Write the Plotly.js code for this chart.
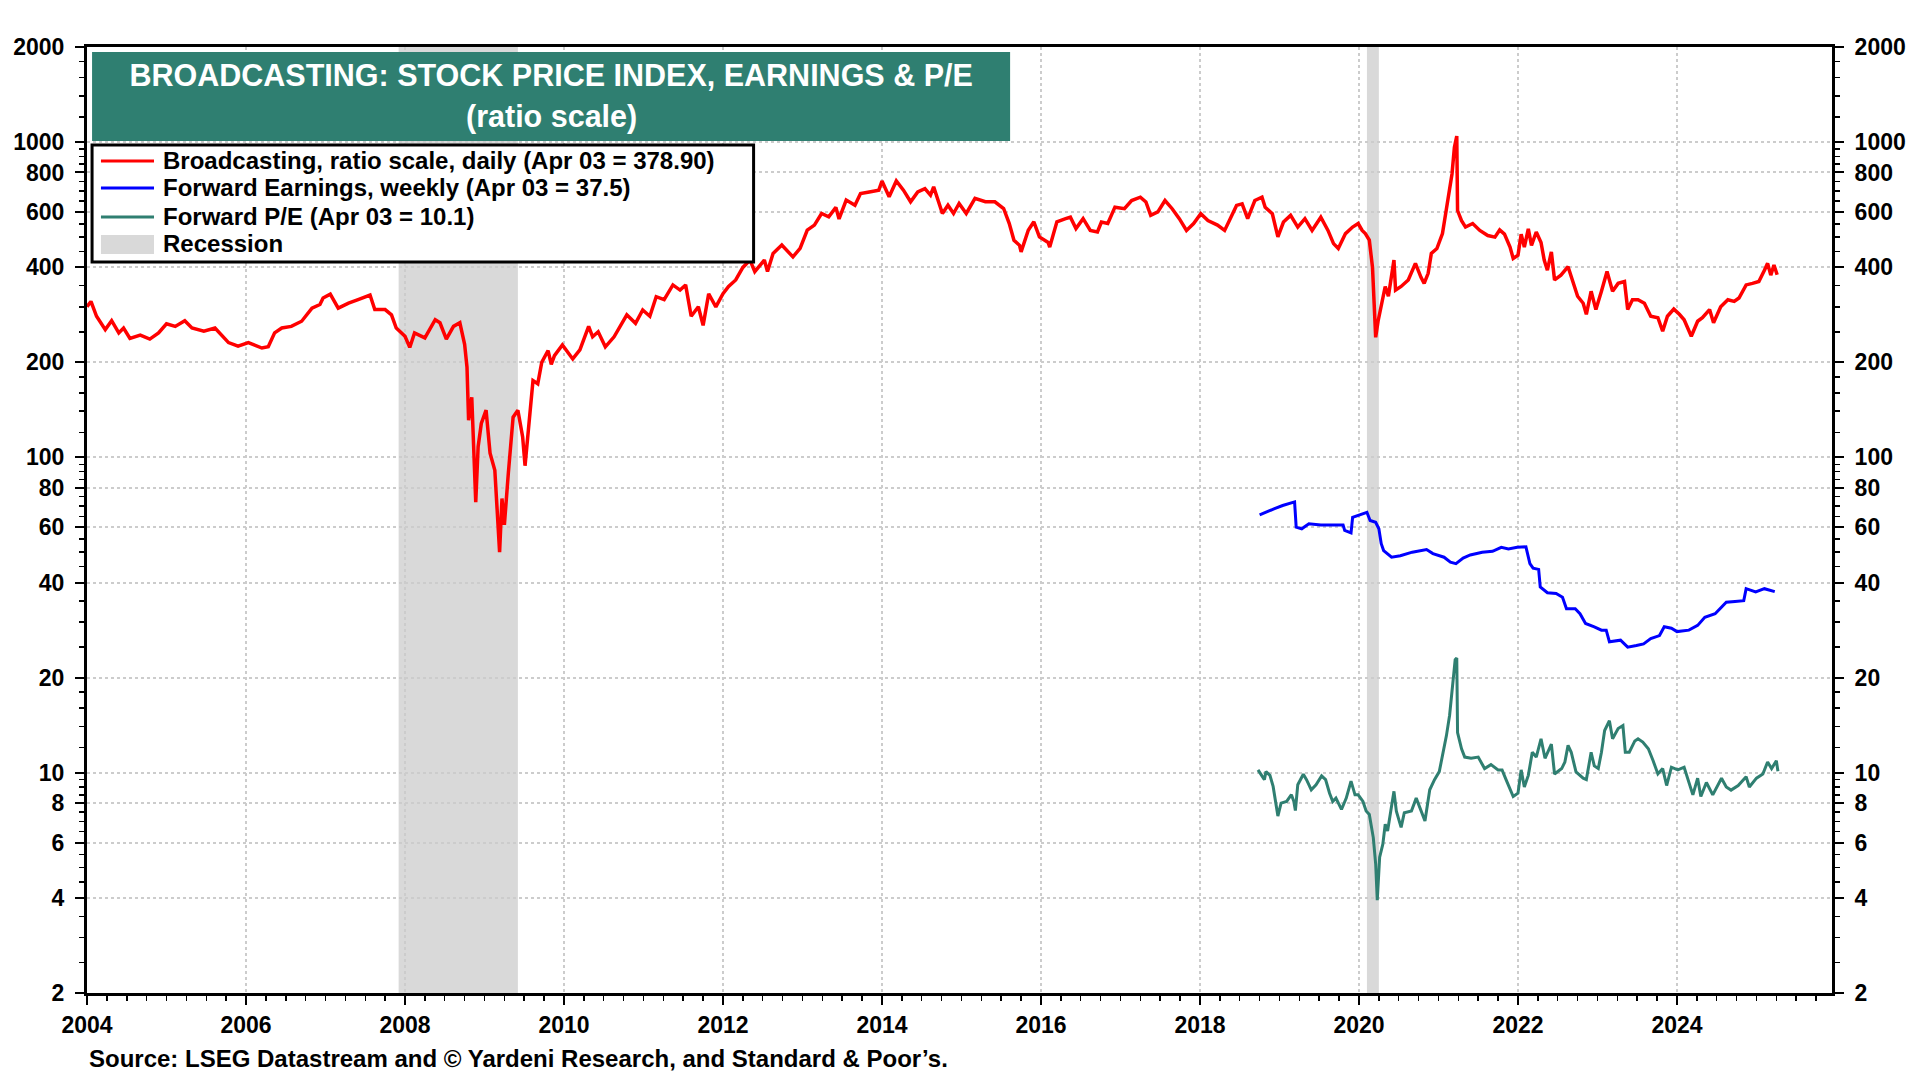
<!DOCTYPE html>
<html>
<head>
<meta charset="utf-8">
<script src="https://cdn.plot.ly/plotly-3.0.1.min.js"></script>
<style>
  html, body { margin: 0; padding: 0; background: #ffffff; }
  #chart { width: 1920px; height: 1080px; }
</style>
</head>
<body>
<div id="chart"></div>
<script>
// Broadcasting stock price index (daily)
const priceYears = [
  2004.00, 2004.05, 2004.12, 2004.23, 2004.31, 2004.40, 2004.46, 2004.54, 2004.67, 2004.79, 2004.90,
  2005.00, 2005.11, 2005.23, 2005.32, 2005.47, 2005.61, 2005.78, 2005.90,
  2006.03, 2006.20, 2006.28, 2006.36, 2006.45, 2006.57, 2006.70, 2006.83, 2006.93, 2006.97,
  2007.06, 2007.16, 2007.29, 2007.41, 2007.56, 2007.62, 2007.75, 2007.83, 2007.89,
  2008.00, 2008.06, 2008.12, 2008.25, 2008.38, 2008.44, 2008.52, 2008.61, 2008.69, 2008.75, 2008.78,
  2008.80, 2008.84, 2008.87, 2008.89, 2008.92, 2008.96,
  2009.02, 2009.07, 2009.13, 2009.16, 2009.19, 2009.22, 2009.25, 2009.30, 2009.36, 2009.42, 2009.48,
  2009.51, 2009.55, 2009.61, 2009.67, 2009.72, 2009.80, 2009.84, 2009.88, 2009.98,
  2010.11, 2010.20, 2010.31, 2010.36, 2010.43, 2010.52, 2010.63, 2010.79, 2010.90, 2010.99,
  2011.08, 2011.16, 2011.26, 2011.37, 2011.46, 2011.53, 2011.60, 2011.69, 2011.75, 2011.82, 2011.91,
  2012.00, 2012.07, 2012.16, 2012.25, 2012.34, 2012.40, 2012.52, 2012.56, 2012.63, 2012.74, 2012.88, 2012.97,
  2013.06, 2013.15, 2013.24, 2013.33, 2013.42, 2013.46, 2013.55, 2013.66, 2013.73, 2013.84, 2013.96,
  2014.00, 2014.09, 2014.18, 2014.27, 2014.36, 2014.45, 2014.54, 2014.61, 2014.65, 2014.76, 2014.83, 2014.90, 2014.97,
  2015.06, 2015.17, 2015.30, 2015.42, 2015.53, 2015.60, 2015.66, 2015.73, 2015.75, 2015.84, 2015.91, 2015.98,
  2016.09, 2016.11, 2016.20, 2016.31, 2016.37, 2016.44, 2016.53, 2016.62, 2016.71, 2016.76, 2016.84, 2016.93,
  2017.05, 2017.14, 2017.25, 2017.32, 2017.38, 2017.47, 2017.56, 2017.65, 2017.74, 2017.83, 2017.92,
  2018.01, 2018.10, 2018.22, 2018.31, 2018.37, 2018.46, 2018.53, 2018.60, 2018.69, 2018.78, 2018.82, 2018.91, 2018.98,
  2019.05, 2019.14, 2019.23, 2019.32, 2019.41, 2019.52, 2019.61, 2019.68, 2019.74, 2019.83, 2019.92, 2019.99,
  2020.04, 2020.08, 2020.13, 2020.17, 2020.19, 2020.21, 2020.24, 2020.28, 2020.33, 2020.37, 2020.44, 2020.46,
  2020.53, 2020.62, 2020.71, 2020.78, 2020.82, 2020.87, 2020.91, 2020.98,
  2021.05, 2021.09, 2021.14, 2021.17, 2021.20, 2021.23, 2021.24, 2021.29, 2021.34, 2021.43, 2021.52, 2021.62,
  2021.71, 2021.77, 2021.83, 2021.90, 2021.94,
  2022.00, 2022.04, 2022.08, 2022.13, 2022.17, 2022.23, 2022.29, 2022.33, 2022.37, 2022.42, 2022.46, 2022.54,
  2022.63, 2022.69, 2022.75, 2022.82, 2022.86, 2022.92, 2022.98,
  2023.05, 2023.12, 2023.19, 2023.26, 2023.34, 2023.38, 2023.44, 2023.51, 2023.59, 2023.67, 2023.76, 2023.82,
  2023.88, 2023.96,
  2024.03, 2024.09, 2024.18, 2024.26, 2024.32, 2024.41, 2024.46, 2024.55, 2024.64, 2024.72, 2024.78, 2024.87, 2024.95,
  2025.03, 2025.10, 2025.14, 2025.18, 2025.22, 2025.26
];
const priceValues = [
  300, 312, 280, 254, 271, 248, 257, 238, 244, 237, 248,
  265, 260, 271, 257, 251, 257, 231, 225,
  231, 222, 224, 248, 257, 260, 270, 297, 305, 320,
  329, 297, 308, 316, 327, 294, 294, 283, 257,
  242, 223, 248, 239, 273, 267, 237, 260, 267, 228, 193,
  131, 155, 98, 72, 108, 128,
  141, 103, 91, 67, 50, 74, 61, 89, 134, 141, 116,
  94, 122, 175, 171, 200, 218, 197, 210, 227,
  205, 219, 260, 241, 250, 224, 241, 283, 266, 293,
  280, 323, 316, 352, 339, 352, 280, 300, 262, 330, 300,
  330, 348, 365, 400, 422, 388, 422, 388, 443, 471, 432, 460,
  525, 545, 593, 579, 620, 570, 654, 630, 686, 694, 703,
  752, 670, 752, 703, 646, 694, 711, 678, 720, 593, 630, 593, 638,
  593, 662, 646, 646, 615, 552, 488, 470, 448, 525, 558, 500,
  480, 464, 558, 571, 577, 531, 571, 524, 518, 557, 551, 621,
  614, 652, 668, 645, 585, 600, 652, 614, 571, 524, 551,
  592, 563, 545, 524, 563, 629, 636, 571, 652, 668, 621, 592, 500,
  557, 585, 537, 571, 524, 577, 524, 476, 459, 512, 537, 551,
  524, 512, 488, 400, 316, 240, 270, 300, 348, 324, 422, 339,
  348, 365, 412, 372, 356, 383, 443, 459,
  512, 592, 700, 791, 960, 1044, 606, 563, 537, 551, 524, 505,
  499, 526, 510, 464, 427,
  437, 510, 464, 530, 470, 518, 480, 422, 392, 448, 365, 378,
  402, 361, 324, 308, 284, 336, 294,
  336, 388, 336, 356, 361, 294, 316, 316, 308, 280, 277, 251,
  280, 295,
  284, 273, 242, 270, 277, 294, 267, 300, 316, 312, 320, 352, 356,
  361, 392, 412, 378, 407, 379
];

// Forward earnings, weekly
const earnYears = [
  2018.75, 2018.84, 2018.93, 2019.04, 2019.13, 2019.19, 2019.21, 2019.28, 2019.37, 2019.52, 2019.70, 2019.80,
  2019.82, 2019.90, 2019.92, 2020.01, 2020.10, 2020.14, 2020.21, 2020.25, 2020.28, 2020.31, 2020.41, 2020.52,
  2020.67, 2020.85, 2020.93, 2021.07, 2021.15, 2021.22, 2021.31, 2021.40, 2021.55, 2021.68, 2021.79, 2021.88,
  2021.99, 2022.10, 2022.15, 2022.19, 2022.26, 2022.28, 2022.37, 2022.48, 2022.56, 2022.61, 2022.72, 2022.78,
  2022.85, 2022.96, 2023.05, 2023.11, 2023.15, 2023.29, 2023.38, 2023.49, 2023.58, 2023.67, 2023.78, 2023.84,
  2023.93, 2024.00, 2024.15, 2024.26, 2024.35, 2024.48, 2024.62, 2024.73, 2024.84, 2024.87, 2024.99, 2025.10,
  2025.23
];
const earnValues = [
  65.6, 66.9, 68.6, 70.3, 71.6, 72.2, 60.0, 59.3, 61.5, 61.0, 61.0, 61.0,
  58.6, 57.6, 64.5, 65.6, 66.9, 63.0, 62.2, 59.3, 53.2, 50.6, 48.2, 48.7,
  50.0, 51.0, 49.5, 48.2, 46.5, 46.0, 47.9, 49.0, 50.0, 50.3, 51.8, 51.2,
  51.8, 52.0, 46.0, 44.5, 44.1, 38.8, 37.2, 37.0, 36.0, 33.1, 33.1, 31.9,
  29.7, 29.0, 28.3, 28.3, 26.0, 26.3, 25.0, 25.3, 25.6, 26.6, 27.2, 29.0,
  28.7, 28.0, 28.3, 29.3, 31.1, 31.9, 34.7, 34.9, 35.1, 38.3, 37.4, 38.3,
  37.5
];

// Forward P/E
const peYears = [
  2018.73, 2018.77, 2018.81, 2018.83, 2018.88, 2018.92, 2018.95, 2018.98, 2019.02, 2019.09, 2019.15, 2019.18,
  2019.20, 2019.23, 2019.30, 2019.34, 2019.40, 2019.46, 2019.53, 2019.58, 2019.63, 2019.67, 2019.71, 2019.78,
  2019.84, 2019.90, 2019.95, 2019.99, 2020.05, 2020.09, 2020.13, 2020.18, 2020.21, 2020.23, 2020.26, 2020.30,
  2020.33, 2020.36, 2020.40, 2020.44, 2020.47, 2020.53, 2020.57, 2020.66, 2020.72, 2020.78, 2020.83, 2020.89,
  2020.95, 2021.01, 2021.06, 2021.10, 2021.14, 2021.18, 2021.21, 2021.23, 2021.24, 2021.29, 2021.33, 2021.41,
  2021.50, 2021.58, 2021.66, 2021.75, 2021.80, 2021.85, 2021.90, 2021.94, 2022.00, 2022.04, 2022.08, 2022.13,
  2022.18, 2022.23, 2022.29, 2022.34, 2022.42, 2022.46, 2022.55, 2022.59, 2022.63, 2022.67, 2022.73, 2022.82,
  2022.86, 2022.92, 2022.96, 2023.01, 2023.05, 2023.09, 2023.15, 2023.19, 2023.26, 2023.32, 2023.35, 2023.40,
  2023.47, 2023.51, 2023.57, 2023.64, 2023.70, 2023.76, 2023.82, 2023.87, 2023.93, 2024.01, 2024.09, 2024.14,
  2024.20, 2024.26, 2024.30, 2024.37, 2024.45, 2024.56, 2024.62, 2024.68, 2024.77, 2024.87, 2024.91, 2025.00,
  2025.08, 2025.14, 2025.19, 2025.25, 2025.27
];
const peValues = [
  10.2, 9.8, 9.5, 10.07, 9.8, 9.04, 8.11, 7.28, 8.0, 8.1, 8.51, 8.11,
  7.58, 9.15, 9.88, 9.5, 8.82, 9.15, 9.76, 9.5, 8.6, 8.1, 8.3, 7.64,
  8.3, 9.4, 8.5, 8.5, 8.1, 7.55, 7.37, 6.22, 5.13, 3.94, 5.39, 5.93,
  6.86, 6.53, 7.55, 8.72, 7.55, 6.7, 7.46, 7.55, 8.3, 7.55, 7.02, 8.82,
  9.5, 10.07, 11.6, 13.1, 15.2, 19.3, 22.8, 23.1, 13.4, 11.9, 11.2, 11.1,
  11.2, 10.3, 10.6, 10.2, 10.2, 9.5, 8.8, 8.4, 8.6, 10.2, 9.0, 9.8,
  11.6, 11.2, 12.8, 11.1, 12.3, 9.9, 10.3, 10.8, 12.2, 11.6, 10.05, 9.6,
  9.5, 11.6, 10.5, 10.3, 11.6, 13.6, 14.6, 12.8, 13.8, 14.1, 11.6, 11.6,
  12.6, 12.8, 12.5, 11.9, 10.9, 9.9, 10.3, 9.1, 10.4, 10.2, 10.4, 9.5,
  8.5, 9.6, 8.4, 9.3, 8.5, 9.6, 9.0, 8.8, 9.1, 9.7, 9.0, 9.6,
  9.9, 10.8, 10.3, 10.9, 10.1
];

// Recessions
const recessionStarts = [2007.92, 2020.10];
const recessionEnds = [2009.42, 2020.25];

// Axis ticks
const yearTicks = [2004, 2006, 2008, 2010, 2012, 2014, 2016, 2018, 2020, 2022, 2024];
const yTicks = [2, 4, 6, 8, 10, 20, 40, 60, 80, 100, 200, 400, 600, 800, 1000, 2000];
const yMinorSteps = [1.2, 1.4, 1.6, 1.8, 2.5, 3, 3.5, 4.5, 5, 5.5, 6.5, 7, 7.5, 8.5, 9, 9.5];

const FONT = 'Liberation Sans, Arial, sans-serif';
const GREEN = '#2f7f71';
const RED = '#ff0000';
const BLUE = '#0000ff';
const GRAY = '#d9d9d9';

let yMinor = [];
[1, 10, 100, 1000].forEach(function (d) {
    yMinorSteps.forEach(function (s) {
        const v = s * d;
        if (v > 2 && v < 2000) yMinor.push(v);
    });
});

const trace1 = {
    x: priceYears,
    y: priceValues,
    type: 'scatter',
    mode: 'lines',
    name: 'Broadcasting, ratio scale, daily (Apr 03 = 378.90)',
    line: { color: RED, width: 3.5 }
};

const trace2 = {
    x: earnYears,
    y: earnValues,
    type: 'scatter',
    mode: 'lines',
    name: 'Forward Earnings, weekly (Apr 03 = 37.5)',
    line: { color: BLUE, width: 3 }
};

const trace3 = {
    x: peYears,
    y: peValues,
    type: 'scatter',
    mode: 'lines',
    name: 'Forward P/E (Apr 03 = 10.1)',
    yaxis: 'y2',
    line: { color: GREEN, width: 3 }
};

let shapes = [];
for (let i = 0; i < recessionStarts.length; i++) {
    shapes.push({
        type: 'rect',
        xref: 'x', yref: 'paper',
        x0: recessionStarts[i], x1: recessionEnds[i],
        y0: 0, y1: 1,
        fillcolor: GRAY,
        line: { width: 0 },
        layer: 'below'
    });
}
// title box
shapes.push({
    type: 'rect', xref: 'paper', yref: 'paper',
    x0: 0.0029, x1: 0.5290, y0: 0.9006, y1: 0.9947,
    fillcolor: GREEN, line: { width: 0 }, layer: 'above'
});
// legend box
shapes.push({
    type: 'rect', xref: 'paper', yref: 'paper',
    x0: 0.0029, x1: 0.382, y0: 0.7727, y1: 0.8964,
    fillcolor: '#ffffff', line: { color: '#000000', width: 3 }, layer: 'above'
});

const legendRows = [0.8795, 0.851, 0.8203, 0.7918];
const legendItems = [
    { label: trace1.name, color: RED },
    { label: trace2.name, color: BLUE },
    { label: trace3.name, color: GREEN },
    { label: 'Recession', color: GRAY }
];

let annotations = [];
legendItems.forEach(function (item, i) {
    if (item.label === 'Recession') {
        shapes.push({
            type: 'rect', xref: 'paper', yref: 'paper',
            x0: 0.008, x1: 0.0384, y0: legendRows[i] - 0.0105, y1: legendRows[i] + 0.0095,
            fillcolor: item.color, line: { width: 0 }, layer: 'above'
        });
    } else {
        shapes.push({
            type: 'line', xref: 'paper', yref: 'paper',
            x0: 0.008, x1: 0.0384, y0: legendRows[i], y1: legendRows[i],
            line: { color: item.color, width: 3 }, layer: 'above'
        });
    }
    annotations.push({
        text: item.label,
        xref: 'paper', yref: 'paper',
        x: 0.0424, y: legendRows[i],
        xanchor: 'left', yanchor: 'middle',
        showarrow: false,
        font: { family: FONT, size: 24, color: '#000000', weight: 'bold' }
    });
});

annotations.push({
    text: '(ratio scale)',
    xref: 'paper', yref: 'paper',
    x: 0.2660, y: 0.927,
    xanchor: 'center', yanchor: 'middle',
    showarrow: false,
    font: { family: FONT, size: 30.5, color: '#ffffff', weight: 'bold' }
});
annotations.push({
    text: 'Source: LSEG Datastream and \u00a9 Yardeni Research, and Standard & Poor\u2019s.',
    xref: 'paper', yref: 'paper',
    x: 0.0, y: -0.0695,
    xanchor: 'left', yanchor: 'middle',
    showarrow: false,
    font: { family: FONT, size: 24, color: '#000000', weight: 'bold' }
});

const yAxisBase = {
    type: 'log',
    range: [Math.log10(2), Math.log10(2000)],
    tickmode: 'array',
    tickvals: yTicks,
    ticktext: yTicks.map(String),
    ticks: 'outside',
    ticklen: 9,
    tickwidth: 2,
    tickcolor: '#000000',
    ticklabelstandoff: 6,
    tickfont: { family: FONT, size: 23, color: '#000000', weight: 'bold' },
    showline: true,
    linecolor: '#000000',
    linewidth: 3,
    zeroline: false,
    fixedrange: true,
    minor: {
        tickmode: 'array',
        tickvals: yMinor,
        ticks: 'outside',
        ticklen: 5,
        tickwidth: 1.5,
        tickcolor: '#000000',
        showgrid: false
    }
};

const layout = {
    width: 1920,
    height: 1080,
    paper_bgcolor: '#ffffff',
    plot_bgcolor: '#ffffff',
    margin: { l: 87, r: 88, t: 47, b: 87 },
    font: { family: FONT, color: '#000000' },
    title: {
        text: 'BROADCASTING: STOCK PRICE INDEX, EARNINGS & P/E',
        font: { family: FONT, size: 30.5, color: '#ffffff', weight: 'bold' },
        xref: 'paper', x: 0.2660, xanchor: 'center',
        yref: 'paper', y: 0.9704, yanchor: 'middle'
    },
    xaxis: {
        range: [2004, 2025.95],
        tickmode: 'array',
        tickvals: yearTicks,
        ticktext: yearTicks.map(String),
        ticks: 'outside',
        ticklen: 9,
        tickwidth: 2,
        tickcolor: '#000000',
        tickfont: { family: FONT, size: 23, color: '#000000', weight: 'bold' },
        showline: true,
        mirror: true,
        linecolor: '#000000',
        linewidth: 3,
        showgrid: true,
        gridcolor: '#cccccc',
        gridwidth: 2,
        griddash: 'dot',
        zeroline: false,
        fixedrange: true,
        minor: {
            tick0: 2004,
            dtick: 0.25,
            ticks: 'outside',
            ticklen: 5,
            tickwidth: 1.5,
            tickcolor: '#000000',
            showgrid: false
        }
    },
    yaxis: Object.assign({}, yAxisBase, {
        side: 'left',
        showgrid: true,
        gridcolor: '#cccccc',
        gridwidth: 2,
        griddash: 'dot'
    }),
    yaxis2: Object.assign({}, yAxisBase, {
        side: 'right',
        overlaying: 'y',
        showgrid: false
    }),
    showlegend: false,
    shapes: shapes,
    annotations: annotations,
    hovermode: false
};

Plotly.newPlot('chart', [trace1, trace2, trace3], layout, { staticPlot: true, displayModeBar: false });
</script>
</body>
</html>
